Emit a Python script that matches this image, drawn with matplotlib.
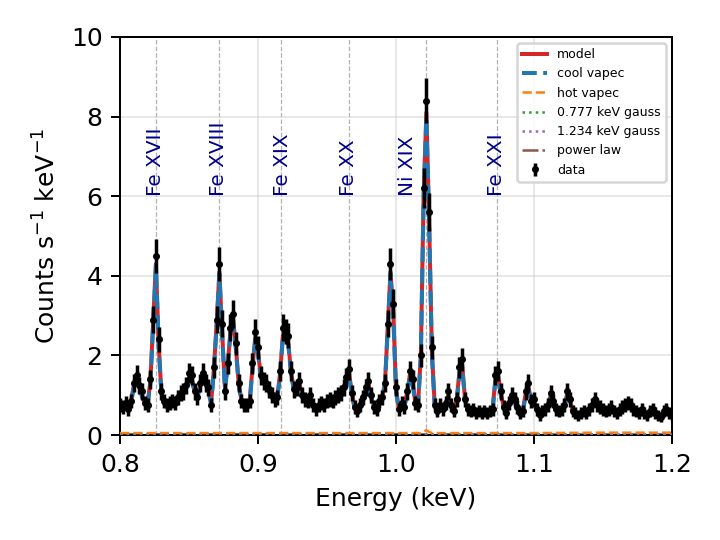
import numpy as np
import matplotlib
matplotlib.use("Agg")
import matplotlib.pyplot as plt

# ---------------- data ----------------
energy = np.round(np.arange(0.800, 1.2001, 0.002), 4)

counts = [0.75,0.70,0.80,0.65,0.85,1.30,1.50,1.25,1.10,0.80,
 0.75,1.40,2.90,4.50,2.40,1.10,0.85,0.75,0.80,0.85,
 0.80,0.95,1.05,1.10,1.25,1.55,1.50,1.10,0.95,1.30,
 1.55,1.30,1.20,0.75,1.70,2.90,4.30,2.80,1.10,1.80,
 2.70,3.05,2.30,1.30,0.85,0.75,0.75,0.85,1.80,2.60,
 2.20,1.50,1.35,1.30,1.15,1.00,0.90,0.95,1.60,2.70,
 2.60,2.50,1.60,1.15,1.20,1.35,1.00,0.90,0.85,1.00,
 0.75,0.65,0.75,0.80,0.75,0.85,0.90,0.85,0.95,1.00,
 1.05,1.20,1.45,1.65,1.05,0.70,0.60,0.75,0.95,1.20,
 1.35,1.00,0.70,0.65,0.85,0.95,1.30,2.80,4.30,3.30,
 1.20,0.65,0.80,0.70,1.10,1.60,1.40,0.80,0.75,2.00,
 6.20,8.40,5.60,2.20,0.75,0.60,0.75,0.65,0.80,1.10,
 0.75,0.60,0.90,1.70,1.90,0.90,0.65,0.60,0.65,0.55,
 0.60,0.55,0.60,0.55,0.60,0.65,1.50,1.60,1.10,0.70,
 0.55,0.80,1.00,0.90,0.70,0.55,0.60,1.10,1.30,0.85,
 0.90,0.65,0.50,0.60,0.65,0.75,1.05,0.85,0.65,0.60,
 0.65,0.75,1.10,0.90,0.60,0.55,0.50,0.55,0.60,0.55,
 0.65,0.75,0.90,0.75,0.70,0.65,0.60,0.65,0.70,0.60,
 0.55,0.65,0.70,0.75,0.80,0.75,0.65,0.60,0.55,0.65,
 0.55,0.50,0.60,0.65,0.55,0.50,0.45,0.60,0.65,0.55,
 0.50]

errors = [0.17,0.17,0.18,0.16,0.18,0.23,0.25,0.22,0.21,0.18,
 0.17,0.24,0.34,0.43,0.31,0.21,0.18,0.17,0.18,0.18,
 0.18,0.19,0.20,0.21,0.22,0.25,0.24,0.21,0.19,0.23,
 0.25,0.23,0.22,0.17,0.26,0.34,0.42,0.33,0.21,0.27,
 0.33,0.35,0.30,0.23,0.18,0.17,0.17,0.18,0.27,0.32,
 0.30,0.24,0.23,0.23,0.21,0.20,0.19,0.19,0.25,0.33,
 0.32,0.32,0.25,0.21,0.22,0.23,0.20,0.19,0.18,0.20,
 0.17,0.16,0.17,0.18,0.17,0.18,0.19,0.18,0.19,0.20,
 0.20,0.22,0.24,0.26,0.20,0.17,0.15,0.17,0.19,0.22,
 0.23,0.20,0.17,0.16,0.18,0.19,0.23,0.33,0.41,0.36,
 0.22,0.16,0.18,0.17,0.21,0.25,0.24,0.18,0.17,0.28,
 0.50,0.57,0.47,0.30,0.17,0.15,0.17,0.16,0.18,0.21,
 0.17,0.15,0.19,0.26,0.28,0.19,0.16,0.15,0.16,0.15,
 0.15,0.15,0.15,0.15,0.15,0.16,0.24,0.25,0.21,0.17,
 0.15,0.18,0.20,0.19,0.17,0.15,0.15,0.21,0.23,0.18,
 0.19,0.16,0.14,0.15,0.16,0.17,0.20,0.18,0.16,0.15,
 0.16,0.17,0.21,0.19,0.15,0.15,0.14,0.15,0.15,0.15,
 0.16,0.17,0.19,0.17,0.17,0.16,0.15,0.16,0.17,0.15,
 0.15,0.16,0.17,0.17,0.18,0.17,0.16,0.15,0.15,0.16,
 0.15,0.14,0.15,0.16,0.15,0.14,0.13,0.15,0.16,0.15,
 0.14]

model = [0.72,0.72,0.75,0.72,0.85,1.25,1.40,1.25,1.00,0.80,
 0.80,1.35,2.80,4.30,2.30,1.05,0.82,0.76,0.78,0.82,
 0.82,0.92,1.02,1.10,1.25,1.45,1.42,1.12,0.98,1.25,
 1.45,1.32,1.15,0.82,1.65,2.80,4.10,2.60,1.20,1.75,
 2.60,2.90,2.20,1.30,0.88,0.76,0.76,0.88,1.70,2.45,
 2.10,1.50,1.35,1.28,1.12,0.98,0.90,0.98,1.55,2.50,
 2.45,2.30,1.55,1.18,1.20,1.28,1.02,0.90,0.86,0.92,
 0.78,0.70,0.74,0.78,0.78,0.84,0.88,0.88,0.94,0.98,
 1.05,1.18,1.40,1.55,1.05,0.72,0.64,0.76,0.95,1.15,
 1.28,0.98,0.72,0.68,0.84,0.96,1.30,2.70,4.10,3.10,
 1.15,0.68,0.76,0.74,1.05,1.50,1.35,0.82,0.80,2.00,
 6.00,8.10,5.40,2.10,0.78,0.62,0.72,0.68,0.80,1.00,
 0.76,0.64,0.90,1.60,1.75,0.92,0.66,0.60,0.62,0.58,
 0.60,0.58,0.60,0.58,0.60,0.66,1.40,1.50,1.05,0.70,
 0.58,0.78,0.95,0.88,0.70,0.58,0.64,1.05,1.20,0.86,
 0.86,0.66,0.55,0.60,0.66,0.76,0.98,0.84,0.66,0.62,
 0.66,0.76,1.02,0.88,0.62,0.56,0.54,0.56,0.58,0.58,
 0.64,0.74,0.86,0.76,0.70,0.64,0.62,0.64,0.68,0.62,
 0.58,0.64,0.70,0.74,0.78,0.74,0.66,0.60,0.58,0.62,
 0.56,0.54,0.58,0.62,0.56,0.52,0.50,0.58,0.62,0.56,
 0.52]

hot_energy = [0.80, 0.85, 0.90, 0.95, 1.00, 1.018, 1.020, 1.022, 1.024, 1.026, 1.05, 1.10, 1.15, 1.20]
hot_vapec  = [0.05, 0.05, 0.05, 0.05, 0.05, 0.05, 0.09, 0.12, 0.08, 0.05, 0.05, 0.05, 0.06, 0.06]

comp_energy = [0.80, 1.00, 1.20]
gauss_777  = [0.004, 0.0, 0.0]
gauss_1234 = [0.0, 0.0, 0.003]
power_law  = [0.020, 0.017, 0.015]

line_names = ["Fe XVII", "Fe XVIII", "Fe XIX", "Fe XX", "Ni XIX", "Fe XXI"]
line_energy = [0.826, 0.872, 0.917, 0.966, 1.022, 1.073]
label_x = [0.8255, 0.8715, 0.9175, 0.9655, 1.0085, 1.0725]

# cool component = model minus hot component
cool_vapec = np.array(model) - np.interp(energy, hot_energy, hot_vapec)

# ---------------- plot ----------------
fig = plt.figure(figsize=(4, 3), dpi=180)
ax = fig.add_axes([0.1667, 0.1944, 0.7666, 0.7371])

ax.grid(True, color="#cccccc", alpha=0.6, lw=0.6, zorder=0)

for e in line_energy:
    ax.axvline(e, color="gray", ls="--", lw=0.5, alpha=0.6, zorder=1)
for name, x in zip(line_names, label_x):
    ax.text(x, 6.0, name, rotation=90, ha="center", va="bottom",
            color="darkblue", fontsize=8, zorder=6)

ax.errorbar(energy, counts, yerr=errors, fmt="o", color="k", ms=1.8,
            elinewidth=1.4, capsize=0, label="data", zorder=4)
ax.plot(energy, model, color="#d62728", lw=1.6, label="model", zorder=2)
ax.plot(energy, cool_vapec, color="#1f77b4", lw=1.6, ls="--", label="cool vapec", zorder=3)
ax.plot(hot_energy, hot_vapec, color="#ff7f0e", lw=1.0, ls="--", label="hot vapec", zorder=3)
ax.plot(comp_energy, gauss_777, color="#2ca02c", lw=1.0, ls=":", label="0.777 keV gauss", zorder=3)
ax.plot(comp_energy, gauss_1234, color="#9467bd", lw=1.0, ls=":", label="1.234 keV gauss", zorder=3)
ax.plot(comp_energy, power_law, color="#8c564b", lw=1.0, ls="-.", label="power law", zorder=2)

ax.set_xlim(0.8, 1.2)
ax.set_ylim(0, 10)
ax.set_xticks([0.8, 0.9, 1.0, 1.1, 1.2])
ax.set_yticks([0, 2, 4, 6, 8, 10])
ax.set_xlabel("Energy (keV)")
ax.set_ylabel("Counts s$^{-1}$ keV$^{-1}$")
ax.legend(loc="upper right", fontsize=5)

fig.savefig("out.png", dpi=180)
